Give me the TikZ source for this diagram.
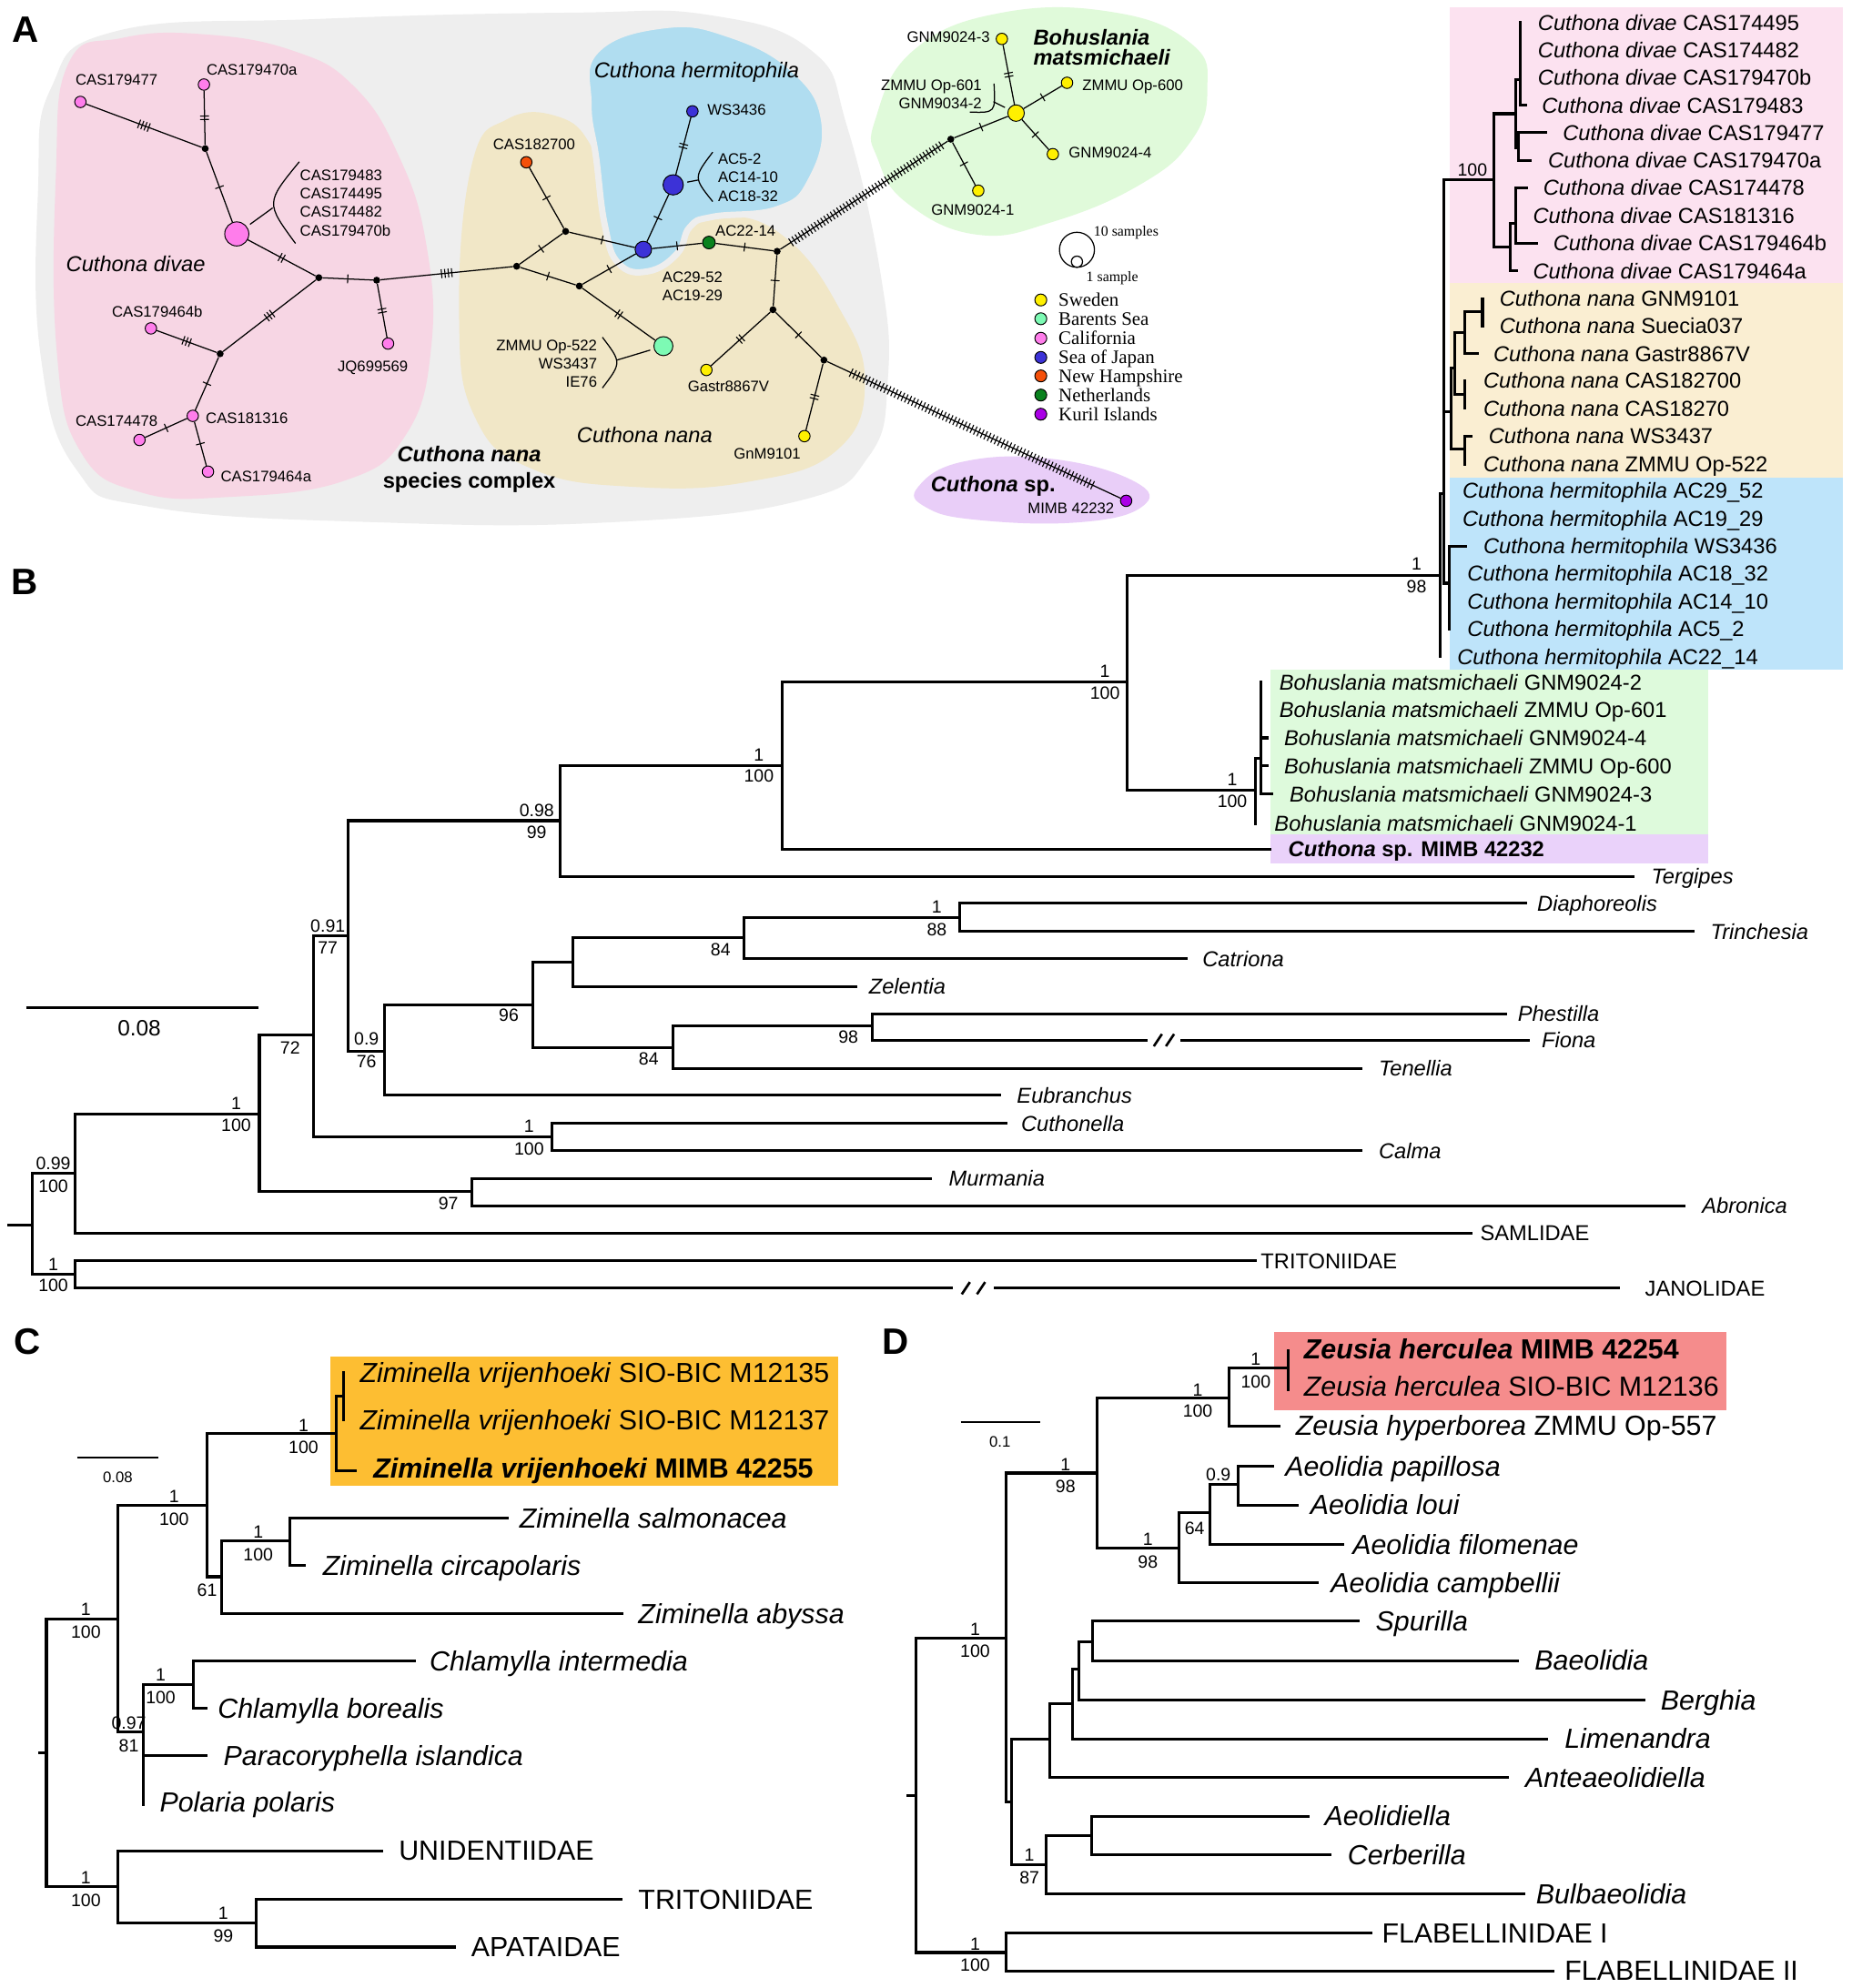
\documentclass[tikz,border=0pt]{standalone}
\usepackage{fontspec}
\setmainfont{Liberation Sans}
\newfontfamily\legfont{Liberation Serif}
\usepackage{tikz}
\usetikzlibrary{positioning, calc, decorations.pathreplacing}

\definecolor{greybg}{RGB}{238,238,238}
\definecolor{divaereg}{RGB}{247,214,228}
\definecolor{nanareg}{RGB}{241,231,199}
\definecolor{hermreg}{RGB}{176,221,240}
\definecolor{bohureg}{RGB}{224,250,218}
\definecolor{spreg}{RGB}{233,206,248}
\definecolor{swedenyel}{RGB}{255,240,0}
\definecolor{barentsgrn}{RGB}{125,250,180}
\definecolor{califpink}{RGB}{255,125,235}
\definecolor{japanblue}{RGB}{60,50,215}
\definecolor{hampsorange}{RGB}{245,80,10}
\definecolor{nethgreen}{RGB}{10,130,30}
\definecolor{kurilpurple}{RGB}{170,0,230}
\definecolor{divaebox}{RGB}{252,226,240}
\definecolor{nanabox}{RGB}{250,238,210}
\definecolor{hermbox}{RGB}{190,228,250}
\definecolor{bohubox}{RGB}{222,250,220}
\definecolor{spbox}{RGB}{234,210,250}
\definecolor{zimbox}{RGB}{253,190,50}
\definecolor{zeubox}{RGB}{245,140,140}

\newcommand\tks[1]{\rule[-3.5pt]{0.8pt}{7pt}\ifnum#1>1 \foreach \i in {2,...,#1}{\hspace{1.9pt}\rule[-3.5pt]{0.8pt}{7pt}}\fi}

\begin{document}
\begin{tikzpicture}[x=1pt, y=-1pt,
    net/.style={line width=0.9pt},
    hap/.style={circle, draw, line width=0.7pt, inner sep=0pt, minimum size=#1},
    hap/.default=9pt,
    mv/.style={circle, fill=black, inner sep=0pt, minimum size=5.5pt},
    tk/.style={sloped, midway, inner sep=0pt},
    manyticks/.style={decorate, decoration={ticks, segment length=3pt, amplitude=3.5pt}, line width=0.8pt},
    alab/.style={inner sep=0pt, font=\fontsize{12}{14}\selectfont, text height=8.6pt, text depth=0pt},
    clade/.style={inner sep=0pt, font=\fontsize{17}{20}\selectfont\itshape, text height=12.2pt, text depth=0pt},
    legl/.style={inner sep=0pt, font=\legfont\fontsize{15}{17}\selectfont, text height=10pt, text depth=0pt},
    legs/.style={inner sep=0pt, font=\legfont\fontsize{11.4}{13}\selectfont, text height=7.6pt, text depth=0pt},
    treeline/.style={line width=2.2pt, line cap=rect},
    leaf/.style={inner sep=0pt, anchor=west, font=\fontsize{17}{20}\selectfont, text height=12.2pt, text depth=0pt},
    bigleaf/.style={inner sep=0pt, anchor=west, font=\fontsize{21.8}{24}\selectfont, text height=15.6pt, text depth=0pt},
    sv/.style={inner sep=0pt, font=\fontsize{14}{16}\selectfont, text height=10pt, text depth=0pt},
    panel/.style={inner sep=0pt, font=\fontsize{29}{32}\selectfont\bfseries},
    brk/.style={fill=white, inner sep=0pt, minimum height=6pt, minimum width=#1},
    slash/.style={line width=1.9pt}
]
\fill[white] (0,0) rectangle (1460,1568);
\useasboundingbox (0,0) rectangle (1460,1568);

% A: haplotype network
\fill[greybg] plot[smooth cycle, tension=0.75] coordinates {(40,70) (90,25) (250,15) (450,10) (560,12) (640,40) (668,100) (695,220) (700,300) (685,360) (630,395) (480,412) (300,412) (120,400) (60,370) (32,280) (30,150)};
\fill[divaereg] plot[smooth cycle, tension=0.75] coordinates {(54,50) (96,30) (160,27) (231,40) (279,68) (314,122) (336,192) (340,274) (320,343) (272,379) (180,392) (110,388) (64,357) (45,280) (44,140)};
\fill[nanareg] plot[smooth cycle, tension=0.75] coordinates {(372,130) (400,94) (440,92) (466,115) (480,160) (500,195) (540,180) (575,170) (620,188) (660,240) (682,300) (660,355) (590,380) (500,384) (420,370) (375,330) (362,250)};
\filldraw[fill=hermreg, draw=greybg, line width=5pt] plot[smooth cycle, tension=0.75] coordinates {(464,82) (470,40) (523,20) (575,27) (626,55) (650,96) (639,143) (613,165) (562,171) (544,179) (534,200) (511,214) (488,208) (477,178) (470,124)};
\fill[bohureg] plot[smooth cycle, tension=0.75] coordinates {(690,95) (720,40) (790,10) (880,10) (940,35) (952,70) (940,110) (900,145) (830,175) (770,185) (715,160) (692,125)};
\fill[spreg] plot[smooth cycle, tension=0.75] coordinates {(724,384) (760,364) (830,362) (895,380) (900,400) (850,412) (770,410) (730,400)};

\foreach \n/\x/\y/\col/\sz in {cas477/63.4/80.4/califpink/9pt, cas470a/160.8/66.7/califpink/9pt,
  divbig/186.7/184.5/califpink/19pt, jq/306/271/califpink/9pt, cas464b/119/259/califpink/9pt,
  cas316/152/328/califpink/9pt, cas478/110/347/califpink/9pt, cas464a/164/372/califpink/9pt,
  cas700/415/128/hampsorange/9pt, hbc/507.3/196.8/japanblue/13pt, barents/523.1/273/barentsgrn/15pt,
  hbig/530.8/145.8/japanblue/16pt, ws3436/546/87.8/japanblue/9pt, ac2214/559/191.3/nethgreen/10pt,
  gastr/557/291.8/swedenyel/9pt, gnm9101/634.3/344/swedenyel/9pt, mimb/888/395/kurilpurple/9pt,
  ycen/801.2/89.2/swedenyel/13pt, g3/790/30.7/swedenyel/9pt, op600/841.4/65.3/swedenyel/9pt,
  g4/830.2/121.6/swedenyel/9pt, g1/771.4/150.4/swedenyel/9pt}
  \node[hap=\sz, fill=\col] (\n) at (\x,\y) {};
\foreach \n/\x/\y in {mv1/161.8/117.2, mv2/251.4/219, mv3/297/221, mv4/407.4/210, mv5/173.6/279,
  mv6/446/182.5, mv7/456.8/225.6, mv8/612.8/198.2, mv9/609.5/244.3, mv10/649.7/284, mv11/749.7/109.8}
  \node[mv] (\n) at (\x,\y) {};

\foreach \pa/\pb/\nt in {cas477/mv1/4, cas470a/mv1/2, mv1/divbig/1, divbig/mv2/2, mv2/mv3/1, mv3/jq/2,
  mv3/mv4/4, mv2/mv5/3, mv5/cas464b/3, mv5/cas316/1, cas316/cas478/1, cas316/cas464a/1,
  cas700/mv6/1, mv4/mv6/1, mv6/hbc/1, mv4/mv7/1, mv7/hbc/1, mv7/barents/2, hbc/hbig/1,
  hbig/ws3436/2, hbc/ac2214/1, ac2214/mv8/1, mv8/mv9/1, mv9/gastr/2, mv9/mv10/1, mv10/gnm9101/2,
  mv11/ycen/1, mv11/g1/1, ycen/g3/2, ycen/op600/1, ycen/g4/1}
  \draw[net] (\pa) -- node[tk] {\tks{\nt}} (\pb);
\draw[net] (mv8) -- (mv11);
\draw[manyticks] ($(mv8)!0.08!(mv11)$) -- ($(mv8)!0.95!(mv11)$);
\draw[net] (mv10) -- (mimb);
\draw[manyticks] ($(mv10)!0.09!(mimb)$) -- ($(mv10)!0.89!(mimb)$);

% brackets
\coordinate (bkd1) at (236,127.6); \coordinate (bkd2) at (233,192); \coordinate (bkd3) at (215,164);
\draw[net] (bkd1) .. controls (209.5,160) .. (bkd2);
\draw[net, shorten <=3pt] (divbig) -- (bkd3);
\coordinate (bkh1) at (562,120); \coordinate (bkh2) at (562,159); \coordinate (bkh3) at (550.5,142);
\draw[net] (bkh1) .. controls (546.8,140) .. (bkh2);
\draw[net, shorten <=3pt] (hbig) -- (bkh3);
\coordinate (bkb1) at (475,266); \coordinate (bkb2) at (475,306); \coordinate (bkb3) at (486.5,284);
\draw[net] (bkb1) .. controls (490.2,286) .. (bkb2);
\draw[net, shorten <=3pt] (barents) -- (bkb3);
\coordinate (bky1) at (783.8,65.9); \coordinate (bky2) at (764.7,88.4); \coordinate (bky3) at (783.3,80.2);
\draw[net] (bky1) .. controls (785,89) .. (bky2);
\draw[net, shorten <=3pt] (ycen) -- (bky3);

\foreach \nm/\x/\y/\txt in {lc477/92/63/CAS179477, lc470a/198.6/55/CAS179470a, ljq/294/289/JQ699569,
  lc464b/124/246/CAS179464b, lc316/194.7/329.4/CAS181316, lc478/92/332/CAS174478,
  lc464a/209.8/375.5/CAS179464a, lc700/421.2/113.4/CAS182700, la2952/546/218.2/AC29-52,
  la1929/546/232.8/AC19-29, lgas/574.4/304.7/Gastr8867V, lg9101/605/357.7/GnM9101,
  lg91/767/165.2/GNM9024-1, lmimb/844.5/400.8/MIMB 42232}
  \node[alab] (\nm) at (\x,\y) {\txt};
\foreach \nm/\x/\y/\txt in {ld483/236.4/137.8/CAS179483, ld495/236.4/152.3/CAS174495,
  ld482/236.4/167/CAS174482, ld470b/236.4/181.7/CAS179470b, lws36/557.7/86.5/WS3436,
  la52/566/125/AC5-2, la1410/566/139.4/AC14-10, la1832/566/154.3/AC18-32, la2214/564/181.7/AC22-14,
  lop600/853.3/67/ZMMU Op-600, lg94/842.6/120.2/GNM9024-4}
  \node[alab, anchor=west] (\nm) at (\x,\y) {\txt};
\foreach \nm/\x/\y/\txt in {lz522/471/272.3/ZMMU Op-522, lws37/471/286.9/WS3437, lie76/471/301.4/IE76,
  lg93/780.7/29/GNM9024-3, lop601/774.3/67/ZMMU Op-601, lg342/774.3/81.5/GNM9034-2}
  \node[alab, anchor=east] (\nm) at (\x,\y) {\txt};

\node[clade] (cdiv) at (107,208) {Cuthona divae};
\node[clade] (cher) at (549.3,55) {Cuthona hermitophila};
\node[clade] (cnan) at (508.3,343) {Cuthona nana};
\node[clade, font=\fontsize{17}{20}\selectfont\bfseries\itshape] (ccx1) at (370,358) {Cuthona nana};
\node[clade, font=\fontsize{17}{20}\selectfont\bfseries] (ccx2) at (370,379) {species complex};
\node[clade, anchor=west, font=\fontsize{17}{20}\selectfont\bfseries\itshape] (cboh1) at (814.7,29.6) {Bohuslania};
\node[clade, anchor=west, font=\fontsize{17}{20}\selectfont\bfseries\itshape] (cboh2) at (814.7,45.3) {matsmichaeli};
\node[clade, anchor=west, font=\fontsize{17}{20}\selectfont\bfseries] (csp) at (733.8,381.6) {\textit{Cuthona} sp.};

% legend
\node[hap=27.6pt, line width=0.9pt] (szbig) at (849.2,197) {};
\node[hap=8.8pt, line width=0.9pt, fill=white] (szsmall) at (849.2,206.4) {};
\node[legs, anchor=west] (lten) at (862.3,182.5) {10 samples};
\node[legs, anchor=west] (lone) at (856.4,218.2) {1 sample};
\foreach \col/\lab/\yy [count=\k] in {swedenyel/Sweden/236.6, barentsgrn/Barents Sea/251.4,
  califpink/California/266.8, japanblue/Sea of Japan/281.9, hampsorange/New Hampshire/296.5,
  nethgreen/Netherlands/311.6, kurilpurple/Kuril Islands/326.7}{
  \node[hap=9.4pt, fill=\col] (lg\k) at (820.7,\yy) {};
  \node[legl, right=8.8pt of lg\k] (lgt\k) {\lab};
}

% B: tree
\fill[divaebox] (1143.5,6) rectangle (1453.5,223.5);
\fill[nanabox] (1143.5,223.5) rectangle (1453.5,376.5);
\fill[hermbox] (1143.5,376.5) rectangle (1453.5,528);
\fill[bohubox] (1001.5,528) rectangle (1347,658.3);
\fill[spbox] (1001.5,658.3) rectangle (1347,681.3);

\foreach \n/\x/\y in {bR/25.2/966, b1/59.5/925.4, bT/59.5/1005.3, b2/204.5/879, b4/372/940,
  b3/247/816.5, b6/435.5/896.7, b5/274.5/737.8, b8/303.3/829, b9/420/792.5, b11/530.7/826.3,
  b12/687.6/809.4, b10/452/759, b13/586.5/739.8, b14/756.7/723.6, b7/442/647.3, b15/617/603.6,
  b16/888.8/538, bB/989.7/623, bB2/994.4/598, b17/1135.5/453.7, bH1/1138.5/389, bD0/1178.2/142,
  bD1/1195/89.7, bD2/1198.9/62.6, bD3/1197/116.8, bD4/1190.9/194.7, bD5/1195/176, bN0/1144/325,
  bNB/1147/290, bNC/1155/262, bND/1169/246, bNF/1155/311, bNG/1155/354, bNH/1142.6/460,
  bStub/6.9/966,
  tSAM/1160/972.7, tTRI/989.7/994.3, tJAN/1276/1016, tMur/734/929.4, tAbr/1328/951,
  tCut/793/886, tCal/1073.5/907.7, tEub/788.4/863.7, tTen/1073.5/842.8, tPhe/1187.6/799.6,
  tFio/1205/820.4, tZel/674.8/778, tCat/935.2/756.1, tDia/1202.7/712.5, tTri/1335.3/734.8,
  tTer/1288/691.4, tSp/1001.5/669.7, tG1/989.7/649.7, tG2/994.4/538.2, tO601/994.4/560,
  tG4/999/582, tO600/999/604, tG3/1003/626.4, tA2214/1135.5/518, tA2952/1138.5/387,
  tA1929/1138.5/409, tC495/1198.9/17.6, tC482/1198.9/39.3, tC470b/1198.9/61, tC483/1203/83,
  tC477/1218.9/104.7, tC470a/1206.8/126.4, tC478/1203.6/148, tC316/1195/170, tC464b/1211.6/191.7,
  tC464a/1196/213.7, tGNM/1169/235.5, tSue/1169/257, tGas/1164.8/279, tC700/1155/300,
  tC270/1155/322, tW37/1160/344, tZ522/1155/366, tW36/1156/430.7, tA1832/1142.6/452,
  tA1410/1142.6/474, tA52/1142.6/496}
  \coordinate (\n) at (\x,\y);
\draw[treeline] (bStub) -- (bR);
\foreach \pa/\ch in {bR/b1, bR/bT, b1/b2, b1/tSAM, bT/tTRI, bT/tJAN, b2/b3, b2/b4, b4/tMur, b4/tAbr,
  b3/b5, b3/b6, b6/tCut, b6/tCal, b5/b7, b5/b8, b8/b9, b8/tEub, b9/b10, b9/b11, b11/b12, b11/tTen,
  b12/tPhe, b12/tFio, b10/b13, b10/tZel, b13/b14, b13/tCat, b14/tDia, b14/tTri, b7/b15, b7/tTer,
  b15/b16, b15/tSp, b16/b17, b16/bB, bB/bB2, bB/tG1, bB2/tG2, bB2/tO601, bB2/tG4, bB2/tO600,
  bB2/tG3, b17/bH1, b17/tA2214, bH1/bD0, bH1/bN0, bH1/bNH, bH1/tA2952, bH1/tA1929, bD0/bD1,
  bD0/bD4, bD1/bD2, bD1/bD3, bD2/tC495, bD2/tC482, bD2/tC470b, bD2/tC483, bD3/tC477, bD3/tC470a,
  bD4/bD5, bD4/tC464a, bD5/tC478, bD5/tC316, bD5/tC464b, bN0/bNB, bN0/bNG, bNB/bNC, bNB/bNF,
  bNC/bND, bNC/tGas, bND/tGNM, bND/tSue, bNF/tC700, bNF/tC270, bNG/tW37, bNG/tZ522, bNH/tW36,
  bNH/tA1832, bNH/tA1410, bNH/tA52}
  \draw[treeline] (\pa) |- (\ch);
% breaks
\node[brk=26pt] (brkF) at (917.8,820.4) {};
\draw[slash] ($(brkF)+(-8,4.8)$) -- ($(brkF)+(-1.6,-4.8)$);
\draw[slash] ($(brkF)+(1.6,4.8)$) -- ($(brkF)+(8,-4.8)$);
\node[brk=32pt] (brkJ) at (767.6,1016) {};
\draw[slash] ($(brkJ)+(-9.2,4.8)$) -- ($(brkJ)+(-2.8,-4.8)$);
\draw[slash] ($(brkJ)+(2.8,4.8)$) -- ($(brkJ)+(9.2,-4.8)$);

\foreach \x/\y/\spc/\id [count=\k] in {1212.5/17.6/Cuthona divae/CAS174495,
  1212.5/39.3/Cuthona divae/CAS174482, 1212.5/61/Cuthona divae/CAS179470b,
  1215.7/83/Cuthona divae/CAS179483, 1232.2/104.7/Cuthona divae/CAS179477,
  1220.5/126.4/Cuthona divae/CAS179470a, 1216.7/148/Cuthona divae/CAS174478,
  1208.7/170/Cuthona divae/CAS181316, 1224.6/191.7/Cuthona divae/CAS179464b,
  1208.7/213.7/Cuthona divae/CAS179464a, 1182.3/235.5/Cuthona nana/GNM9101,
  1182.3/257/Cuthona nana/Suecia037, 1177.5/279/Cuthona nana/Gastr8867V,
  1169.6/300/Cuthona nana/CAS182700, 1169.6/322/Cuthona nana/CAS18270,
  1173.7/344/Cuthona nana/WS3437, 1169.6/366/Cuthona nana/ZMMU Op-522,
  1153/387/Cuthona hermitophila/AC29\_52, 1153/409/Cuthona hermitophila/AC19\_29,
  1169.6/430.7/Cuthona hermitophila/WS3436, 1156.9/452/Cuthona hermitophila/AC18\_32,
  1156.9/474/Cuthona hermitophila/AC14\_10, 1156.9/496/Cuthona hermitophila/AC5\_2,
  1148.9/518/Cuthona hermitophila/AC22\_14, 1008.6/538.2/Bohuslania matsmichaeli/GNM9024-2,
  1008.6/560/Bohuslania matsmichaeli/ZMMU Op-601, 1012.4/582/Bohuslania matsmichaeli/GNM9024-4,
  1012.4/604/Bohuslania matsmichaeli/ZMMU Op-600, 1016.7/626.4/Bohuslania matsmichaeli/GNM9024-3,
  1004.8/649.7/Bohuslania matsmichaeli/GNM9024-1}
  \node[leaf] (lb\k) at (\x,\y) {\textit{\spc} \id};
\node[leaf] (lbsp) at (1015.7,669.7) {\textbf{\textit{Cuthona} sp. MIMB 42232}};
\foreach \x/\y/\txt [count=\k] in {1302/691.4/Tergipes, 1212/712.5/Diaphoreolis, 1348.6/734.8/Trinchesia,
  948/756.1/Catriona, 685/778/Zelentia, 1196.6/799.6/Phestilla, 1215.5/820.4/Fiona,
  1087/842.8/Tenellia, 801.7/863.7/Eubranchus, 805/886/Cuthonella, 1087/907.7/Calma,
  748/929.4/Murmania, 1342/951/Abronica}
  \node[leaf] (lg\k) at (\x,\y) {\textit{\txt}};
\foreach \x/\y/\txt [count=\k] in {1167/972.7/SAMLIDAE, 994/994.3/TRITONIIDAE, 1297/1016/JANOLIDAE}
  \node[leaf] (lf\k) at (\x,\y) {\txt};
\foreach \x/\y/\txt [count=\k] in {42/917.6/0.99, 42/935.3/100, 42/997/1, 42/1014/100, 186.2/870.4/1,
  186.2/887/100, 228.8/826.3/72, 258.5/730/0.91, 258.5/747.2/77, 289/819.2/0.9, 289/837/76,
  401.2/800.7/96, 511.5/835/84, 668.9/818/98, 568.2/749.2/84, 417.2/888/1, 417.2/905.8/100,
  353.6/949/97, 423.2/639/0.98, 423.2/656/99, 598.4/595/1, 598.4/612/100, 738.7/714.9/1,
  738.7/732.8/88, 871.3/529.6/1, 871.3/546.8/100, 971.7/614.7/1, 971.7/632/100, 1117/444.6/1,
  1117/462.2/98, 1161/133.7/100}
  \node[sv] (svb\k) at (\x,\y) {\txt};
\coordinate (sbB1) at (20.6,794.5); \coordinate (sbB2) at (203.6,794.5);
\draw[treeline, line cap=butt] (sbB1) -- (sbB2);
\node[sv, font=\fontsize{17.5}{20}\selectfont, text height=12.5pt] (sbBl) at (109.8,810.6) {0.08};

% C: tree
\fill[zimbox] (260.8,1069.8) rectangle (661,1171.7);
\foreach \n/\x/\y in {cR/36.6/1382.3, c1/92.9/1276.7, c2/163.3/1187, c3/265.4/1130.8, c3a/270.8/1101,
  c4/174.8/1243.6, c5/228.8/1215.3, c7/113/1366.3, c8/152.3/1328.8, c9/92.9/1488, c10/202.2/1517,
  cStub/31/1382.3,
  tZ35/270.8/1082.4, tZ37/270.8/1119.9, tZMI/280/1159.8, tSal/400.3/1197.3, tCir/240.2/1234.8,
  tAby/490.4/1272.6, tInt/327/1310, tBor/162.4/1347.2, tPar/162.4/1384.7, tPol/113/1423.2,
  tUni/301/1459.7, tTrC/489.5/1498.2, tApa/358.2/1535.7}
  \coordinate (\n) at (\x,\y);
\draw[treeline] (cStub) -- (cR);
\foreach \pa/\ch in {cR/c1, cR/c9, c1/c2, c1/c7, c2/c3, c2/c4, c3/c3a, c3/tZMI, c3a/tZ35, c3a/tZ37,
  c4/c5, c4/tAby, c5/tSal, c5/tCir, c7/c8, c7/tPar, c7/tPol, c8/tInt, c8/tBor, c9/tUni, c9/c10,
  c10/tTrC, c10/tApa}
  \draw[treeline] (\pa) |- (\ch);
\node[bigleaf] (lc1) at (283.7,1082.4) {\textit{Ziminella vrijenhoeki} SIO-BIC M12135};
\node[bigleaf] (lc2) at (283.7,1119.9) {\textit{Ziminella vrijenhoeki} SIO-BIC M12137};
\node[bigleaf] (lc3) at (294.2,1157.7) {\textbf{\textit{Ziminella vrijenhoeki} MIMB 42255}};
\foreach \x/\y/\txt [count=\k] in {409.5/1197.3/Ziminella salmonacea, 254.4/1234.8/Ziminella circapolaris,
  503.2/1272.6/Ziminella abyssa, 338.6/1310/Chlamylla intermedia, 171.6/1347.2/Chlamylla borealis,
  176.1/1384.7/Paracoryphella islandica, 125.8/1421.5/Polaria polaris}
  \node[bigleaf] (lci\k) at (\x,\y) {\textit{\txt}};
\foreach \x/\y/\txt [count=\k] in {314.3/1459.7/UNIDENTIIDAE, 503.2/1498.2/TRITONIIDAE, 371.5/1535.7/APATAIDAE}
  \node[bigleaf] (lcf\k) at (\x,\y) {\txt};
\foreach \x/\y/\txt [count=\k] in {67.7/1269/1, 67.7/1287/100, 137.3/1180.2/1, 137.3/1198/100,
  239.3/1124/1, 239.3/1141.4/100, 163.3/1253.8/61, 203.6/1207.8/1, 203.6/1226/100, 101.6/1359/0.97,
  101.6/1377/81, 126.7/1321/1, 126.7/1338.7/100, 67.7/1481/1, 67.7/1498.9/100, 176.1/1509/1,
  176.1/1527/99}
  \node[sv] (svc\k) at (\x,\y) {\txt};
\coordinate (sbC1) at (60.8,1149.6); \coordinate (sbC2) at (124.9,1149.6);
\draw[line width=1pt] (sbC1) -- (sbC2);
\node[sv, font=\fontsize{12}{14}\selectfont, text height=8.6pt] (sbCl) at (92.9,1165.2) {0.08};

% D: tree
\fill[zeubox] (1004.4,1050.7) rectangle (1361,1112);
\foreach \n/\x/\y in {dR/722.1/1416.4, d1/793/1292, d2/864.8/1161.8, d3/969/1102.9, d4/1015.7/1079,
  d5/929.7/1221.1, d6/954.3/1193, d6a/976.4/1171, d7/797.9/1421.5, d8/827.9/1372, d9/846/1343.8,
  d10/851/1316.5, d11/861.8/1294.7, d13/825/1471, d14/860.8/1447.8, d15/793/1540, dStub/715.7/1416.4,
  tZH1/1015.7/1065.4, tZH2/1015.7/1096, tZhy/1008.4/1125, tPap/1003.5/1156.4, tLou/1023.1/1187,
  tFil/1058.5/1218, tCam/1038.9/1248.4, tSpu/1071.3/1278.4, tBae/1196.3/1309.7, tBer/1296/1340.7,
  tLim/1219.8/1371.4, tAnt/1188.8/1401.7, tAel/1031.5/1432.4, tCer/1048.7/1463, tBul/1201.6/1493.8,
  tFl1/1080.7/1524.8, tFl2/1224.8/1554.4}
  \coordinate (\n) at (\x,\y);
\draw[treeline] (dStub) -- (dR);
\foreach \pa/\ch in {dR/d1, dR/d15, d1/d2, d1/d7, d2/d3, d2/d5, d3/d4, d3/tZhy, d4/tZH1, d4/tZH2,
  d5/d6, d5/tCam, d6/d6a, d6/tFil, d6a/tPap, d6a/tLou, d7/d8, d7/d13, d8/d9, d8/tAnt, d9/d10,
  d9/tLim, d10/d11, d10/tBer, d11/tSpu, d11/tBae, d13/d14, d13/tBul, d14/tAel, d14/tCer,
  d15/tFl1, d15/tFl2}
  \draw[treeline] (\pa) |- (\ch);
\node[bigleaf] (ld1) at (1028,1063.7) {\textbf{\textit{Zeusia herculea} MIMB 42254}};
\node[bigleaf] (ld2) at (1028,1093.4) {\textit{Zeusia herculea} SIO-BIC M12136};
\node[bigleaf] (ld3) at (1021.6,1124) {\textit{Zeusia hyperborea} ZMMU Op-557};
\foreach \x/\y/\txt [count=\k] in {1013.3/1156.4/Aeolidia papillosa, 1033/1187/Aeolidia loui,
  1066.4/1218/Aeolidia filomenae, 1049.2/1248.4/Aeolidia campbellii, 1084.6/1278.4/Spurilla,
  1210/1309.7/Baeolidia, 1309.4/1340.7/Berghia, 1233.6/1371.4/Limenandra,
  1202.6/1401.7/Anteaeolidiella, 1044.3/1432.4/Aeolidiella, 1062.5/1463/Cerberilla,
  1211/1493.8/Bulbaeolidia}
  \node[bigleaf] (ldi\k) at (\x,\y) {\textit{\txt}};
\node[bigleaf] (ldf1) at (1089.5,1524.8) {FLABELLINIDAE I};
\node[bigleaf] (ldf2) at (1233.6,1554.4) {FLABELLINIDAE II};
\foreach \x/\y/\txt [count=\k] in {768.9/1285.2/1, 768.9/1302.2/100, 840.2/1155/1, 840.2/1172/98,
  944.4/1096/1, 944.4/1113/100, 990.2/1072/1, 990.2/1090/100, 905.1/1213.6/1, 905.1/1231.7/98,
  942/1205/64, 960.7/1163.2/0.9, 811.7/1463/1, 811.7/1480.5/87, 768.9/1533/1, 768.9/1550/100}
  \node[sv] (svd\k) at (\x,\y) {\txt};
\coordinate (sbD1) at (757.6,1121.6); \coordinate (sbD2) at (820.5,1121.6);
\draw[line width=1pt] (sbD1) -- (sbD2);
\node[sv, font=\fontsize{12}{14}\selectfont, text height=8.6pt] (sbDl) at (788.5,1137) {0.1};

% panel letters
\node[panel] (pA) at (20,23.4) {A};
\node[panel] (pB) at (19.5,459) {B};
\node[panel] (pC) at (21.7,1058.5) {C};
\node[panel] (pD) at (706,1058.5) {D};
\end{tikzpicture}
\end{document}
